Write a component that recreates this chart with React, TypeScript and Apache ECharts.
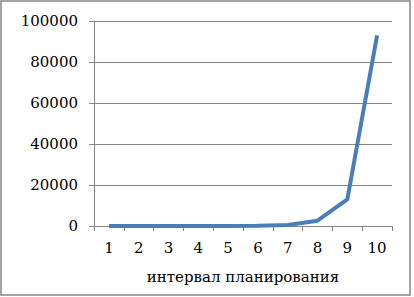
import React, { useEffect, useRef } from "react";
import * as echarts from "echarts";

const categories = ["1", "2", "3", "4", "5", "6", "7", "8", "9", "10"];
const values = [1, 2, 5, 15, 40, 120, 500, 2600, 13000, 93000];
const xAxisName = "интервал планирования";

export default function App() {
  const ref = useRef<HTMLDivElement>(null);
  useEffect(() => {
    document.body.style.margin = "0";
    const chart = echarts.init(ref.current!, null, { renderer: "svg" });
    const font = "DejaVu Serif";
    chart.setOption({
      animation: false,
      backgroundColor: "#ffffff",
      textStyle: { fontFamily: font },
      graphic: [
        {
          type: "rect",
          shape: { x: 1, y: 1, width: 409, height: 294 },
          style: { fill: "none", stroke: "#858585", lineWidth: 1.5 },
          silent: true,
        },
      ],
      grid: { left: 94, top: 21, right: 22, bottom: 71, containLabel: false },
      xAxis: {
        type: "category",
        data: categories,
        boundaryGap: true,
        name: xAxisName,
        nameLocation: "middle",
        nameGap: 43,
        nameTextStyle: { color: "#000", fontSize: 15, fontFamily: font },
        axisLine: { show: true, lineStyle: { color: "#868686", width: 1 } },
        axisTick: { show: true, length: 5, alignWithLabel: false, lineStyle: { color: "#868686" } },
        axisLabel: { color: "#000", fontSize: 15, fontFamily: font, margin: 14 },
        splitLine: { show: false },
      },
      yAxis: {
        type: "value",
        min: 0,
        max: 100000,
        interval: 20000,
        axisLine: { show: true, lineStyle: { color: "#868686", width: 1 } },
        axisTick: { show: true, length: 5, lineStyle: { color: "#868686" } },
        axisLabel: {
          color: "#000",
          fontSize: 15,
          fontFamily: font,
          margin: 16,
          formatter: (v: number) => String(v),
        },
        splitLine: { show: true, lineStyle: { color: "#868686", width: 1 } },
      },
      series: [
        {
          type: "line",
          data: values,
          symbol: "none",
          lineStyle: { color: "#4A7EBB", width: 4 },
          itemStyle: { color: "#4A7EBB" },
        },
      ],
    });
    return () => chart.dispose();
  }, []);
  return <div ref={ref} style={{ width: 414, height: 297 }} />;
}
